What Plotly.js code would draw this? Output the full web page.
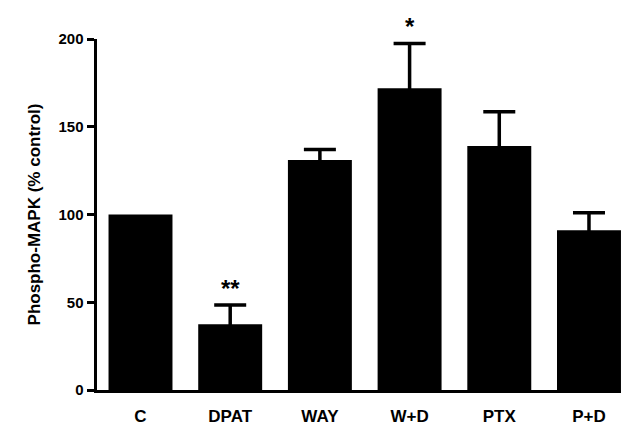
<!DOCTYPE html>
<html>
<head>
<meta charset="utf-8">
<script src="https://cdn.plot.ly/plotly-3.0.1.min.js"></script>
<style>html,body{margin:0;padding:0;background:#fff;}#chart{width:623px;height:427px;}</style>
</head>
<body>
<div id="chart"></div>
<script>
const categories = ["C", "DPAT", "WAY", "W+D", "PTX", "P+D"];
const values = [100, 37.5, 131, 172, 139, 91];
const errors = [null, 11, 6, 25.5, 19.5, 10];
const stars = ["", "**", "", "*", "", ""];
const yTicks = [0, 50, 100, 150, 200];

const font = "Liberation Sans, Arial, sans-serif";

const idx = categories.map((c, i) => i).filter(i => errors[i] != null);

const bars = {
  type: "bar",
  x: categories,
  y: values,
  marker: {color: "#000", line: {width: 0}},
  hoverinfo: "none"
};

const whiskers = {
  type: "scatter",
  mode: "markers",
  x: idx.map(i => categories[i]),
  y: idx.map(i => values[i]),
  marker: {size: 1, opacity: 0, color: "#000"},
  error_y: {
    type: "data",
    symmetric: false,
    array: idx.map(i => errors[i]),
    // lower cap tucked inside the black bar so only the upper whisker shows
    arrayminus: idx.map(() => 4),
    color: "#000",
    thickness: 3.5,
    width: 16,
    visible: true
  },
  hoverinfo: "none"
};

const annotations = [];
categories.forEach((c, i) => {
  if (stars[i]) {
    annotations.push({
      x: c, y: values[i] + errors[i], xref: "x", yref: "y",
      text: "<b>" + stars[i] + "</b>", showarrow: false,
      yanchor: "bottom", yshift: 1,
      font: {family: font, size: 24, color: "#000"}
    });
  }
});

const layout = {
  width: 623, height: 427,
  margin: {l: 97, r: 2, t: 39, b: 37},
  paper_bgcolor: "#fff", plot_bgcolor: "#fff",
  bargap: 0.287,
  showlegend: false,
  xaxis: {
    type: "category",
    categoryorder: "array", categoryarray: categories,
    range: [-0.485, 5.357],
    showline: true, linecolor: "#000", linewidth: 3,
    ticks: "", showgrid: false, zeroline: false,
    tickfont: {family: font, size: 17, color: "#000", weight: "bold"},
    ticklabelstandoff: 9
  },
  yaxis: {
    range: [0, 200],
    tickvals: yTicks,
    ticktext: yTicks.map(String),
    showline: true, linecolor: "#000", linewidth: 3.5,
    ticks: "outside", ticklen: 7, tickwidth: 3, tickcolor: "#000",
    showgrid: false, zeroline: false,
    tickfont: {family: font, size: 15, color: "#000", weight: "bold"},
    title: {text: "Phospho-MAPK (% control)", standoff: 14,
            font: {family: font, size: 17, color: "#000", weight: "bold"}}
  },
  annotations: annotations
};

Plotly.newPlot("chart", [bars, whiskers], layout, {staticPlot: true, displayModeBar: false});
</script>
</body>
</html>
